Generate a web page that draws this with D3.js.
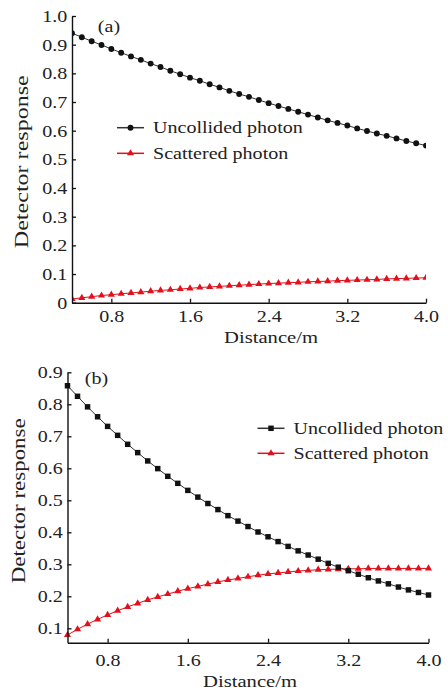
<!DOCTYPE html>
<html><head><meta charset="utf-8">
<script src="https://cdn.jsdelivr.net/npm/d3@7"></script>
<style>
html,body{margin:0;padding:0;background:#fff;}
svg{display:block;}
text{font-family:"Liberation Serif","Times New Roman",serif;fill:#222;}
</style></head>
<body>
<svg id="c" width="448" height="689"></svg>
<script>
// ---------- data ----------
const distance = [0.4,0.5,0.6,0.7,0.8,0.9,1.0,1.1,1.2,1.3,1.4,1.5,1.6,1.7,1.8,1.9,2.0,2.1,2.2,2.3,2.4,2.5,2.6,2.7,2.8,2.9,3.0,3.1,3.2,3.3,3.4,3.5,3.6,3.7,3.8,3.9,4.0];
const aUncollided = [0.940,0.926,0.912,0.899,0.885,0.872,0.859,0.847,0.834,0.822,0.809,0.797,0.785,0.774,0.762,0.751,0.739,0.728,0.718,0.707,0.696,0.686,0.676,0.666,0.656,0.646,0.636,0.627,0.618,0.608,0.599,0.590,0.582,0.573,0.564,0.556,0.548];
const aScattered = [0.013,0.017,0.021,0.025,0.028,0.031,0.034,0.037,0.040,0.043,0.045,0.048,0.050,0.053,0.055,0.057,0.059,0.061,0.063,0.065,0.067,0.068,0.070,0.071,0.073,0.074,0.075,0.077,0.078,0.079,0.080,0.081,0.083,0.084,0.085,0.086,0.087];
const bUncollided = [0.858,0.825,0.792,0.761,0.731,0.703,0.675,0.649,0.623,0.599,0.575,0.553,0.531,0.510,0.490,0.471,0.452,0.435,0.418,0.401,0.386,0.371,0.356,0.342,0.329,0.316,0.303,0.291,0.280,0.269,0.258,0.248,0.239,0.229,0.220,0.212,0.204];
const bScattered = [0.079,0.097,0.113,0.128,0.142,0.155,0.167,0.178,0.189,0.198,0.207,0.216,0.224,0.231,0.238,0.245,0.251,0.256,0.261,0.266,0.270,0.273,0.276,0.279,0.281,0.283,0.284,0.285,0.286,0.286,0.287,0.287,0.287,0.287,0.287,0.287,0.287];
const xTicks = [0.8,1.6,2.4,3.2,4.0];
const aYTicks = [0,0.1,0.2,0.3,0.4,0.5,0.6,0.7,0.8,0.9,1.0];
const bYTicks = [0.1,0.2,0.3,0.4,0.5,0.6,0.7,0.8,0.9];
const seriesNames = ["Uncollided photon","Scattered photon"];
const panelLabels = ["(a)","(b)"];
const xTitle = "Distance/m";
const yTitle = "Detector response";

// ---------- drawing ----------
const svg = d3.select("#c");
const FS = 17, SX = 1.18;
const RED = "#e3101c", BLK = "#111";

const panels = [
  {label:panelLabels[0], unc:aUncollided, sca:aScattered, yTicks:aYTicks, xDom:[0.4,4.0], yDom:[0,1.0],
   xr:[72,426], yr:[302.7,16], marker:"circle", xPad:7, clip:true,
   labelPos:[109,32], legX:117, legY:[127.7,153.3], xTitlePos:[271,342.7], yTitlePos:[28,161.7], yTitleLen:173},
  {label:panelLabels[1], unc:bUncollided, sca:bScattered, yTicks:bYTicks, xDom:[0.4,4.0], yDom:[0.055,0.9],
   xr:[67.5,428.5], yr:[642.7,372.3], marker:"square", xPad:11, clip:false,
   labelPos:[96.5,384], legX:257.5, legY:[428.3,453.3], xTitlePos:[250,686.5], yTitlePos:[25,500.8], yTitleLen:165}
];

function stretchText(sel){ sel.attr("transform", `scale(${SX},1)`); }

panels.forEach((p,i)=>{
  const x = d3.scaleLinear().domain(p.xDom).range(p.xr);
  const y = d3.scaleLinear().domain(p.yDom).range(p.yr);
  const g = svg.append("g");

  const clipId = "clip"+i;
  svg.append("clipPath").attr("id",clipId).append("rect")
    .attr("x",p.xr[0]).attr("y",p.yr[1]-10).attr("width",p.xr[1]-p.xr[0]).attr("height",p.yr[0]-p.yr[1]+20);
  const plot = g.append("g");
  if(p.clip) plot.attr("clip-path",`url(#${clipId})`);

  const line = d3.line().x((d,k)=>x(distance[k])).y(d=>y(d));
  const uncSym = p.marker==="circle" ? d3.symbol(d3.symbolCircle,27) : d3.symbol(d3.symbolSquare,30);
  const triSym = d3.symbol(d3.symbolTriangle,22);

  // scattered
  plot.append("path").datum(p.sca).attr("d",line).attr("fill","none").attr("stroke",RED).attr("stroke-width",1);
  plot.selectAll(".ts").data(p.sca).join("path")
    .attr("transform",(d,k)=>`translate(${x(distance[k])},${y(d)})`).attr("d",triSym).attr("fill",RED);
  // uncollided
  plot.append("path").datum(p.unc).attr("d",line).attr("fill","none").attr("stroke","#333").attr("stroke-width",1);
  plot.selectAll(".us").data(p.unc).join("path")
    .attr("transform",(d,k)=>`translate(${x(distance[k])},${y(d)})`).attr("d",uncSym).attr("fill",BLK);

  // axes
  const xAxis = d3.axisBottom(x).tickValues(xTicks).tickFormat(d3.format(".1f")).tickSizeInner(-4).tickSizeOuter(0).tickPadding(p.xPad);
  const yAxis = d3.axisLeft(y).tickValues(p.yTicks).tickFormat(d=>d===0?"0":d3.format(".1f")(d)).tickSizeInner(-4).tickSizeOuter(0).tickPadding(4);
  const gx = g.append("g").attr("transform",`translate(0,${p.yr[0]})`).call(xAxis);
  const gy = g.append("g").attr("transform",`translate(${p.xr[0]},0)`).call(yAxis);
  [gx,gy].forEach(a=>{
    a.selectAll(".domain").attr("stroke","#111").attr("stroke-width",1.4);
    a.selectAll(".tick line").attr("stroke","#111").attr("stroke-width",1.3);
    a.selectAll(".tick text").attr("font-size",FS).attr("font-family","Liberation Serif, serif").attr("fill","#222").call(stretchText);
  });

  // titles
  g.append("text").attr("transform",`translate(${p.xTitlePos[0]},${p.xTitlePos[1]}) scale(${SX},1)`)
    .attr("text-anchor","middle").attr("font-size",FS+0.5).text(xTitle);
  g.append("text").attr("transform",`translate(${p.yTitlePos[0]},${p.yTitlePos[1]}) rotate(-90)`)
    .attr("text-anchor","middle").attr("font-size",18.5)
    .attr("textLength",p.yTitleLen).attr("lengthAdjust","spacingAndGlyphs").text(yTitle);
  g.append("text").attr("transform",`translate(${p.labelPos[0]},${p.labelPos[1]}) scale(${SX},1)`)
    .attr("text-anchor","middle").attr("font-size",FS).text(p.label);

  // legend
  const items = [{name:seriesNames[0], col:"#333", fill:BLK, sym:uncSym},{name:seriesNames[1], col:RED, fill:RED, sym:triSym}];
  items.forEach((it,k)=>{
    const ly = p.legY[k];
    const lg = g.append("g");
    lg.append("line").attr("x1",p.legX).attr("x2",p.legX+27).attr("y1",ly).attr("y2",ly).attr("stroke",it.col).attr("stroke-width",1.5);
    lg.append("path").attr("transform",`translate(${p.legX+13.5},${ly})`).attr("d",it.sym).attr("fill",it.fill);
    lg.append("text").attr("transform",`translate(${p.legX+36},${ly+5.6}) scale(${SX},1)`)
      .attr("font-size",FS).text(it.name);
  });
});
</script>
</body></html>
